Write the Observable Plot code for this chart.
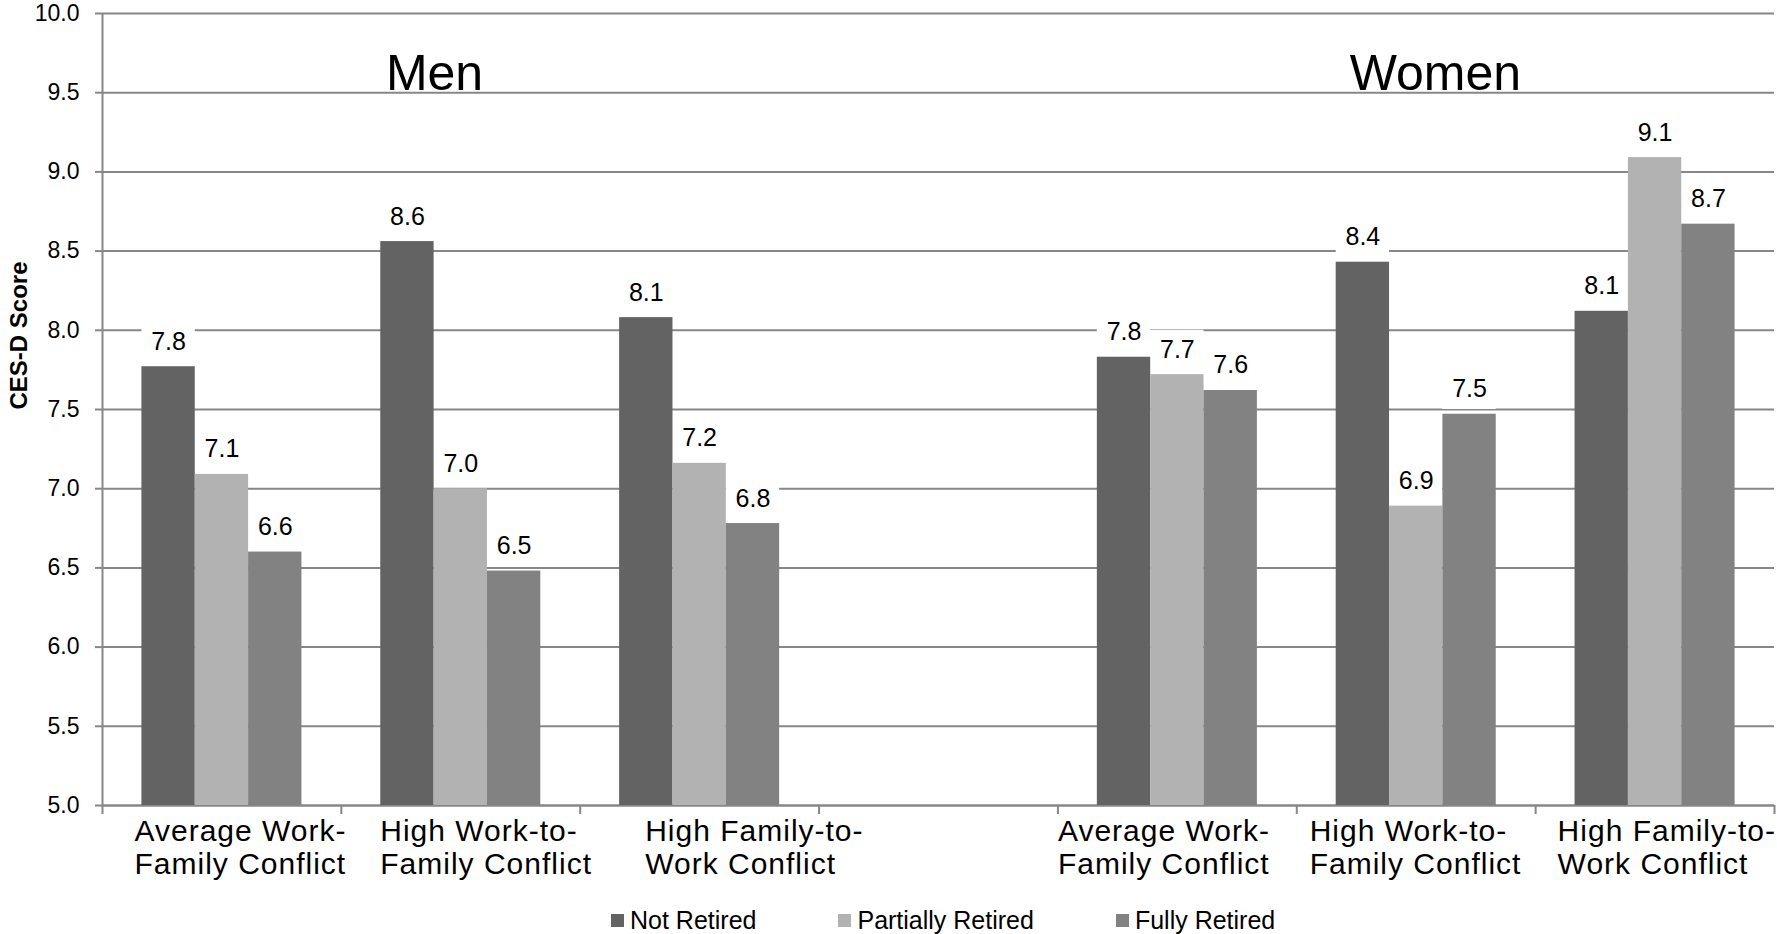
<!DOCTYPE html>
<html>
<head>
<meta charset="utf-8">
<script src="https://cdn.jsdelivr.net/npm/d3@7"></script>
<script src="https://cdn.jsdelivr.net/npm/@observablehq/plot@0.6"></script>
<style>
  html, body { margin: 0; padding: 0; background: #fff; }
  body { width: 1777px; height: 934px; position: relative; overflow: hidden; font-family: "Liberation Sans", Arial, sans-serif; }
  #legend { position: absolute; left: 611px; top: 906px; display: flex; align-items: center; font-size: 25px; color: #000; }
  #legend .item { display: flex; align-items: center; margin-right: 82px; }
  #legend .sw { width: 13px; height: 13px; margin-right: 6px; }
</style>
</head>
<body>
<div id="chart"></div>
<div id="legend"></div>
<script>
// ---- data ----
const groups = ["Men", "Women"];
const conflictTypes = ["Average Work-\nFamily Conflict", "High Work-to-\nFamily Conflict", "High Family-to-\nWork Conflict"];
const statuses = ["Not Retired", "Partially Retired", "Fully Retired"];
const statusColors = ["#636363", "#b2b2b2", "#828282"];

const menNotRetired       = [7.77, 8.56, 8.08];
const menPartiallyRetired = [7.09, 7.00, 7.16];
const menFullyRetired     = [6.60, 6.48, 6.78];
const womenNotRetired       = [7.83, 8.43, 8.12];
const womenPartiallyRetired = [7.72, 6.89, 9.09];
const womenFullyRetired     = [7.62, 7.47, 8.67];

const yTicks = [5.0, 5.5, 6.0, 6.5, 7.0, 7.5, 8.0, 8.5, 9.0, 9.5, 10.0];
const yDomain = [5, 10];

// slots on the x axis: Men 0..2, empty slot 3, Women 4..6
const slotCount = 7;
const menSlots = [0, 1, 2];
const womenSlots = [4, 5, 6];

const rows = [];
[[menSlots, [menNotRetired, menPartiallyRetired, menFullyRetired]],
 [womenSlots, [womenNotRetired, womenPartiallyRetired, womenFullyRetired]]].forEach(([slots, series]) => {
  slots.forEach((slot, ci) => {
    series.forEach((vals, si) => {
      rows.push({slot, ci, si, status: statuses[si], value: vals[ci]});
    });
  });
});

const categoryLabels = [...menSlots, ...womenSlots].map((slot, i) => ({slot, text: conflictTypes[i % 3]}));

const groupInset = 0.165;      // fraction of slot before first bar
const barFrac = 0.67 / 3;      // each bar's share of a slot
const bx1 = d => d.slot + groupInset + d.si * barFrac;
const bx2 = d => d.slot + groupInset + (d.si + 1) * barFrac;
const bxc = d => d.slot + groupInset + (d.si + 0.5) * barFrac;

// where each category label starts within its slot (as in the original layout)
const labelShift = [0.134, 0.163, 0.272, 0.0, 0.054, 0.092];

const gray = "#878787";

const chart = Plot.plot({
  width: 1777,
  height: 890,
  marginLeft: 102,
  marginRight: 3,
  marginTop: 13,
  marginBottom: 85,
  style: {fontFamily: "'Liberation Sans', Arial, sans-serif", color: "#000", background: "#fff"},
  x: {domain: [0, slotCount], axis: null},
  y: {domain: yDomain, axis: null},
  color: {domain: statuses, range: statusColors},
  marks: [
    Plot.gridY(yTicks, {stroke: gray, strokeOpacity: 1, strokeWidth: 2}),
    Plot.axisY({ticks: yTicks, tickFormat: d3.format(".1f"), fontSize: 23, tickSize: 7, tickPadding: 16, stroke: gray, strokeWidth: 2, label: null}),
    Plot.ruleX([0], {stroke: gray, strokeWidth: 2}),
    Plot.ruleY([yDomain[0]], {stroke: gray, strokeWidth: 2}),
    Plot.axisX({ticks: d3.range(0, slotCount + 1), tickFormat: () => "", tickSize: 9, stroke: gray, strokeWidth: 2, label: null}),
    Plot.text(categoryLabels, {x: (d, i) => d.slot + labelShift[i], y: () => yDomain[0], text: "text", textAnchor: "start", lineAnchor: "top", dy: 11, fontSize: 30, lineHeight: 1.13, fill: "#000"}),
    // white boxes behind value labels
    Plot.rect(rows, {x1: bx1, x2: bx2, y1: d => d.value + 0.03, y2: d => d.value + 0.28, fill: "white"}),
    Plot.rect(rows, {x1: bx1, x2: bx2, y1: () => yDomain[0], y2: "value", fill: "status"}),
    Plot.text(rows, {x: bxc, y: "value", text: d => d.value.toFixed(1), dy: -25, fontSize: 25, fill: "#000"}),
    Plot.text(groups, {x: (d, i) => [1.39, 5.58][i], y: () => 9.615, text: d => d, fontSize: 50, fill: "#000"}),
    Plot.text(["CES-D Score"], {frameAnchor: "left", rotate: -90, dx: -83, text: d => d, fontSize: 24, fontWeight: "bold", fill: "#000"})
  ]
});

d3.select(chart).selectAll("text")
  .filter(function() { return this.textContent.includes("Conflict"); })
  .style("letter-spacing", "1px");
document.getElementById("chart").appendChild(chart);

const legend = document.getElementById("legend");
statuses.forEach((s, i) => {
  const item = document.createElement("div");
  item.className = "item";
  const sw = document.createElement("div");
  sw.className = "sw";
  sw.style.background = statusColors[i];
  const tx = document.createElement("span");
  tx.textContent = s;
  item.appendChild(sw);
  item.appendChild(tx);
  legend.appendChild(item);
});
</script>
</body>
</html>
